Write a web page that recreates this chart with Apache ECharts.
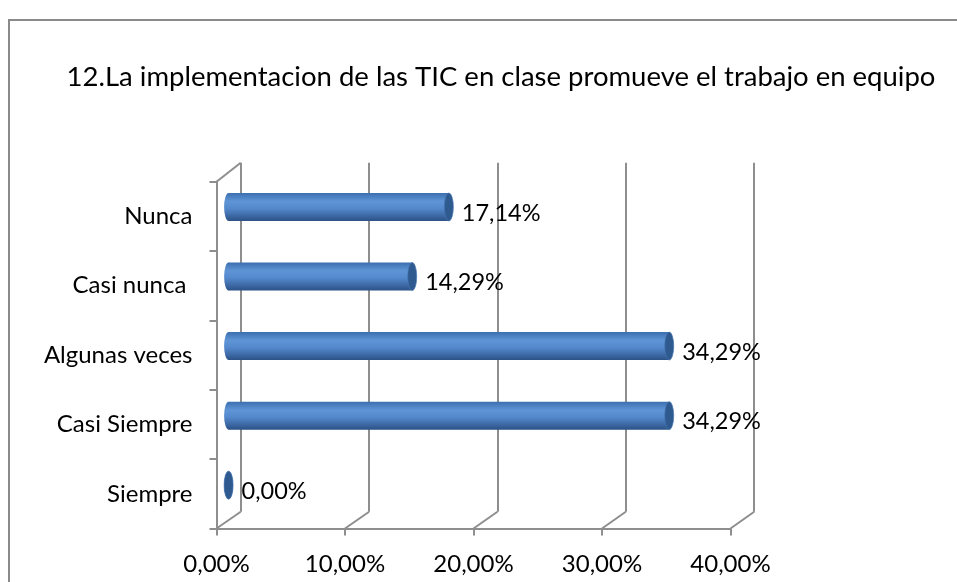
<!DOCTYPE html>
<html>
<head>
<meta charset="utf-8">
<script src="https://cdn.jsdelivr.net/npm/echarts@6/dist/echarts.min.js"></script>
<style>
html, body { margin: 0; padding: 0; background: #fff; }
#main { width: 957px; height: 582px; }
</style>
</head>
<body>
<div id="main"></div>
<script>
// datos
var categories = ['Nunca', 'Casi nunca ', 'Algunas veces', 'Casi Siempre', 'Siempre'];
var values = [17.14, 14.29, 34.29, 34.29, 0.00];
var ticks = [0, 10, 20, 30, 40];
var titleText = '12.La implementacion de las TIC en clase promueve el trabajo en equipo';

var FONT = 'Lato';
var gridColor = '#8e8e8e';

// pared frontal / pared trasera / plano de las barras
var front = { left: 216.5, top: 181.7, width: 514, height: 346.8 };
var back = { left: 240.7, top: 162.7, width: 513.5, height: 349 };
var mid = { left: 228.6, top: 172.2, width: 514, height: 347.8 };

function fmt(v) {
	return v.toFixed(2).replace('.', ',') + '%';
}

var barGrad = new echarts.graphic.LinearGradient(0, 0, 0, 1, [
	{ offset: 0, color: '#3c6fb0' },
	{ offset: 0.3, color: '#5f95d6' },
	{ offset: 0.55, color: '#5489cd' },
	{ offset: 1, color: '#2c5287' }
]);

function renderItem(params, api) {
	var val = api.value(0);
	var cat = api.value(1);
	var p0 = api.coord([0, cat]);
	var p1 = api.coord([val, cat]);
	var h = 28, r = h / 2, rx = 4.5;
	var cy = p1[1];
	return {
		type: 'group',
		children: [
			{
				type: 'circle',
				x: p0[0], y: cy, scaleX: rx / r,
				shape: { cx: 0, cy: 0, r: r },
				style: { fill: barGrad }
			},
			{
				type: 'rect',
				shape: { x: p0[0], y: cy - r, width: Math.max(p1[0] - p0[0], 0), height: h },
				style: { fill: barGrad }
			},
			{
				type: 'circle',
				x: p1[0], y: cy, scaleX: rx / r,
				shape: { cx: 0, cy: 0, r: r },
				style: { fill: '#2f5a8f', stroke: '#4777b3', lineWidth: 1 }
			},
			{
				type: 'text',
				x: p1[0] + 13, y: cy + 6,
				style: {
					text: fmt(val), fill: '#000',
					font: '23.5px ' + FONT,
					verticalAlign: 'middle', align: 'left'
				}
			}
		]
	};
}

var chart = echarts.init(document.getElementById('main'));

var option = {
	backgroundColor: '#fff',
	animation: false,
	title: {
		text: titleText,
		left: 496, top: 58, textAlign: 'center',
		textStyle: { fontFamily: FONT, fontSize: 27.5, fontWeight: 'normal', color: '#000' }
	},
	grid: [
		Object.assign({}, back),
		Object.assign({}, front),
		Object.assign({}, mid)
	],
	xAxis: [
		{
			gridIndex: 0, type: 'value', min: 0, max: 40, interval: 10,
			axisLine: { show: false }, axisTick: { show: false }, axisLabel: { show: false },
			splitLine: { show: true, lineStyle: { color: gridColor, width: 2 } }
		},
		{
			gridIndex: 1, type: 'value', min: 0, max: 40, interval: 10,
			axisLine: { show: true, lineStyle: { color: gridColor, width: 2 } },
			axisTick: { show: true, length: 7, lineStyle: { color: gridColor, width: 2 } },
			axisLabel: {
				margin: 24, fontFamily: FONT, fontSize: 24, color: '#000',
				formatter: function (v) { return fmt(v); }
			},
			splitLine: { show: false }
		},
		{
			gridIndex: 2, type: 'value', min: 0, max: 40, interval: 10, show: false
		}
	],
	yAxis: [
		{ gridIndex: 0, type: 'category', data: categories, inverse: true, show: false },
		{
			gridIndex: 1, type: 'category', data: categories, inverse: true,
			axisLine: { show: true, lineStyle: { color: gridColor, width: 2 } },
			axisTick: { show: true, length: 7, lineStyle: { color: gridColor, width: 2 } },
			axisLabel: { margin: 24, fontFamily: FONT, fontSize: 24, color: '#000' }
		},
		{ gridIndex: 2, type: 'category', data: categories, inverse: true, show: false }
	],
	series: [{
		type: 'custom',
		xAxisIndex: 2, yAxisIndex: 2,
		renderItem: renderItem,
		encode: { x: 0, y: 1 },
		data: values.map(function (v, i) { return [v, i]; }),
		z: 10
	}]
};
chart.setOption(option);

// lineas diagonales de la perspectiva
var deco = [{
	type: 'rect', silent: true, z: -1,
	shape: { x: 9, y: 20, width: 1000, height: 1000 },
	style: { fill: 'none', stroke: '#8a8a8a', lineWidth: 2 }
}];
var frontBottom = front.top + front.height;
var backBottom = back.top + back.height;
ticks.forEach(function (t) {
	var f = chart.convertToPixel({ xAxisIndex: 1 }, t);
	var b = chart.convertToPixel({ xAxisIndex: 0 }, t);
	deco.push({
		type: 'line', silent: true,
		shape: { x1: f, y1: frontBottom, x2: b, y2: backBottom },
		style: { stroke: gridColor, lineWidth: 2 }
	});
});
deco.push({
	type: 'line', silent: true,
	shape: { x1: front.left, y1: front.top, x2: back.left, y2: back.top },
	style: { stroke: gridColor, lineWidth: 2 }
});
chart.setOption({ graphic: deco });
</script>
</body>
</html>
